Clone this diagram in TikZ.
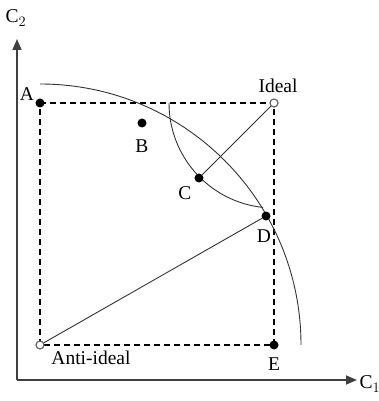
\documentclass[tikz,border=0pt]{standalone}
\usepackage{fontspec}
\setmainfont{Liberation Serif}
\usetikzlibrary{arrows.meta}

\tikzset{
  axis/.style={line width=1.6pt,black!75,-{Triangle[length=11pt,width=9pt]}},
  boxline/.style={line width=1.3pt,dash pattern=on 6pt off 4pt},
  curve/.style={line width=0.9pt,black!80},
  pt/.style={circle,fill=black,inner sep=0pt,minimum size=9pt},
  refpt/.style={circle,draw=black!60,fill=white,line width=1.2pt,inner sep=0pt,minimum size=8pt},
  lbl/.style={font=\fontsize{19.5}{22}\selectfont}
}

\begin{document}
\begin{tikzpicture}[x=1pt,y=1pt]
  \useasboundingbox (0,0) rectangle (379,401);
  % axes
  \coordinate (O) at (17,21);
  \coordinate (ytop) at (17,362);
  \coordinate (xend) at (357,21);
  \draw[axis] (O) -- (ytop);
  \draw[axis] (O) -- (xend);
  \node[lbl] (c2) at (16,383) {C$_2$};
  \node[lbl] (c1) at (370,17) {C$_1$};
  % box
  \coordinate (A) at (40,298);
  \coordinate (I) at (274,298);
  \coordinate (N) at (40,56);
  \coordinate (E) at (274,56);
  \draw[boxline] (A) -- (I) -- (E) -- (N) -- cycle;
  % arcs
  \draw[curve] (40,317) arc[start angle=90,end angle=0,radius=261];
  \draw[curve] (169,298) arc[start angle=180,end angle=264,radius=105];
  % points
  \node[pt] (a) at (A) {};
  \node[pt] (b) at (142,278) {};
  \node[pt] (c) at (199,223) {};
  \node[pt] (d) at (266,185) {};
  \node[pt] (e) at (E) {};
  \node[refpt] (ideal) at (I) {};
  \node[refpt] (anti) at (N) {};
  \draw[curve] (ideal) -- (c);
  \draw[curve] (anti) -- (d);
  % labels
  \node[lbl] at (27,307) {A};
  \node[lbl] at (142,255) {B};
  \node[lbl] at (185,208) {C};
  \node[lbl] at (264,165) {D};
  \node[lbl] at (274,37) {E};
  \node[lbl] at (278,315) {Ideal};
  \node[lbl] at (91,43) {Anti-ideal};
\end{tikzpicture}
\end{document}
